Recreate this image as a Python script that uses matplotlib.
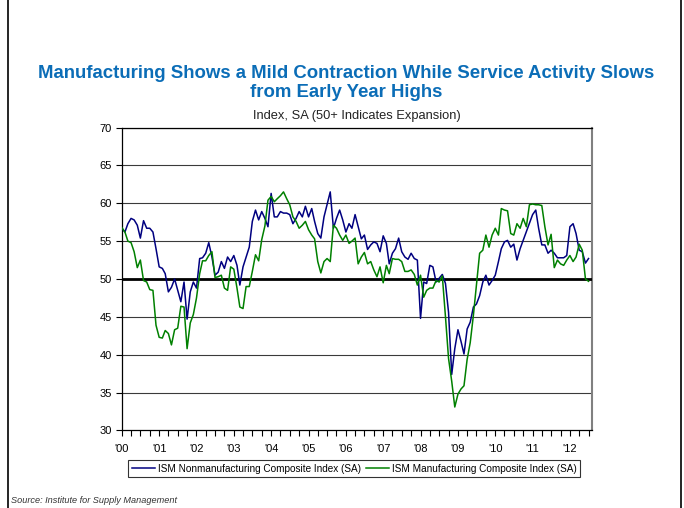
import matplotlib
matplotlib.use("Agg")
import matplotlib.pyplot as plt
import matplotlib.dates as mdates
from matplotlib.lines import Line2D
import numpy as np
import pandas as pd

plt.rcParams['font.family'] = ['Liberation Sans', 'DejaVu Sans']

# monthly readings, Jan 2000 - Jul 2012
nonmfg = [
    56.7, 56.2, 57.3, 58.0, 57.8, 57.1, 55.4, 57.7, 56.7, 56.7, 56.2, 54.0,   # 2000
    51.6, 51.4, 50.7, 48.3, 48.9, 50.0, 48.5, 47.0, 49.6, 44.7, 48.3, 49.6,   # 2001
    48.8, 52.7, 52.8, 53.4, 54.8, 52.9, 50.5, 50.9, 52.3, 51.4, 52.9, 52.3,   # 2002
    53.1, 51.8, 49.2, 51.6, 52.9, 54.2, 57.6, 59.1, 57.8, 58.9, 58.0, 56.9,   # 2003
    61.3, 58.2, 58.2, 58.9, 58.7, 58.7, 58.5, 57.3, 58.0, 58.9, 58.2, 59.6,   # 2004
    58.2, 59.3, 57.6, 56.0, 55.4, 58.2, 59.8, 61.5, 56.7, 58.0, 59.1, 57.8,   # 2005
    56.2, 57.3, 56.7, 58.5, 56.9, 55.3, 55.8, 53.9, 54.5, 54.9, 54.7, 53.6,   # 2006
    55.7, 54.7, 52.0, 53.4, 54.0, 55.4, 53.6, 52.9, 52.6, 53.4, 52.7, 52.5,   # 2007
    44.8, 49.6, 49.4, 51.8, 51.6, 49.6, 50.1, 50.6, 49.4, 45.6, 37.4, 40.8,   # 2008
    43.3, 41.7, 40.1, 43.4, 44.3, 46.3, 46.7, 47.8, 49.6, 50.5, 49.2, 49.8,   # 2009
    50.5, 52.3, 54.0, 54.9, 55.1, 54.2, 54.6, 52.5, 54.0, 55.1, 56.2, 57.3,   # 2010
    58.5, 59.1, 56.7, 54.5, 54.5, 53.4, 53.8, 53.4, 52.8, 52.8, 52.8, 53.1,   # 2011
    56.9, 57.3, 56.0, 53.8, 53.6, 52.1, 52.7,                                 # 2012
]
mfg = [
    56.8, 56.2, 55.0, 54.8, 53.6, 51.5, 52.5, 49.8, 49.6, 48.6, 48.5, 43.9,   # 2000
    42.3, 42.2, 43.2, 42.8, 41.3, 43.3, 43.5, 46.4, 46.3, 40.8, 44.2, 45.3,   # 2001
    47.5, 50.7, 52.4, 52.4, 53.1, 53.6, 50.2, 50.3, 50.5, 48.8, 48.5, 51.6,   # 2002
    51.3, 48.8, 46.3, 46.1, 49.0, 49.0, 51.0, 53.2, 52.4, 55.2, 57.0, 60.4,   # 2003
    60.9, 60.2, 60.6, 61.0, 61.5, 60.6, 59.8, 58.2, 57.6, 56.7, 57.1, 57.6,   # 2004
    56.5, 55.8, 55.3, 52.3, 50.8, 52.3, 52.7, 52.3, 57.1, 56.7, 55.8, 55.1,   # 2005
    55.8, 54.7, 55.0, 55.4, 52.0, 52.9, 53.5, 52.0, 52.3, 51.2, 50.3, 51.6,   # 2006
    49.5, 51.8, 50.7, 52.7, 52.6, 52.6, 52.3, 51.0, 51.0, 51.2, 50.6, 49.2,   # 2007
    50.5, 47.6, 48.5, 48.8, 48.8, 49.8, 49.6, 50.4, 45.0, 39.5, 36.5, 33.1,   # 2008
    34.8, 35.5, 35.9, 39.4, 41.6, 45.2, 49.2, 53.4, 53.8, 55.8, 54.2, 55.8,   # 2009
    56.7, 55.8, 59.3, 59.1, 59.0, 56.0, 55.8, 57.3, 56.7, 58.0, 56.9, 59.8,   # 2010
    59.9, 59.8, 59.8, 59.7, 56.9, 54.5, 55.9, 51.5, 52.5, 52.0, 51.8, 52.5,   # 2011
    53.1, 52.3, 52.9, 54.6, 53.8, 50.0, 49.7,                                 # 2012
]
months = pd.date_range('2000-01-01', periods=len(mfg), freq='MS')

year_ticks = pd.date_range('2000-01-01', '2012-01-01', freq='YS')
year_labels = ["'%02d" % (d.year % 100) for d in year_ticks]
y_ticks = [30, 35, 40, 45, 50, 55, 60, 65, 70]

NAVY = '#000080'
GREEN = '#008000'
TITLE_BLUE = '#0B6DB7'

fig = plt.figure(figsize=(6.84, 5.08), dpi=100)
ax = fig.add_axes([0.178, 0.1526, 0.6875, 0.5964])

for y in y_ticks[1:]:
    if y == 50:
        continue
    ax.axhline(y, color='#3a3a3a', lw=0.8, zorder=1)
ax.axhline(50, color='black', lw=2.0, zorder=3)

ax.plot(months, nonmfg, color=NAVY, lw=1.1, zorder=4,
        label='ISM Nonmanufacturing Composite Index (SA)')
ax.plot(months, mfg, color=GREEN, lw=1.1, zorder=4,
        label='ISM Manufacturing Composite Index (SA)')

ax.set_ylim(30, 70)
ax.set_yticks(y_ticks)
ax.set_xlim(pd.Timestamp('2000-01-01'), pd.Timestamp('2012-08-04'))
ax.set_xticks(year_ticks)
ax.set_xticklabels(year_labels)
ax.xaxis.set_minor_locator(mdates.MonthLocator(bymonth=[1, 4, 7, 10]))

ax.tick_params(axis='both', labelsize=8, colors='black', direction='out')
ax.tick_params(axis='y', length=4, width=0.8, pad=3)
ax.tick_params(axis='x', which='major', length=4, width=0.8, pad=6)
ax.tick_params(axis='x', which='minor', length=4, width=0.8)

for side in ['left', 'bottom', 'top']:
    ax.spines[side].set_color('black')
    ax.spines[side].set_linewidth(0.9)
ax.spines['right'].set_color('#808080')
ax.spines['right'].set_linewidth(1.5)

fig.text(0.506, 0.855, 'Manufacturing Shows a Mild Contraction While Service Activity Slows',
         ha='center', va='center', fontsize=13.4, fontweight='bold', color=TITLE_BLUE)
fig.text(0.506, 0.817, 'from Early Year Highs',
         ha='center', va='center', fontsize=13.4, fontweight='bold', color=TITLE_BLUE)
fig.text(0.522, 0.772, 'Index, SA (50+ Indicates Expansion)',
         ha='center', va='center', fontsize=9.3, color='#222222')

leg = fig.legend(loc='center', bbox_to_anchor=(0.518, 0.077), ncol=2,
                 fontsize=7.2, frameon=True, fancybox=False, handlelength=2.3,
                 handletextpad=0.3, columnspacing=0.5, borderpad=0.35)
leg.get_frame().set_edgecolor('black')
leg.get_frame().set_linewidth(0.8)

fig.text(0.016, 0.014, 'Source: Institute for Supply Management', ha='left', va='center',
         fontsize=6.6, style='italic', color='#333333')

# slide frame
fig.add_artist(Line2D([0.012, 0.012], [0, 1], color='black', lw=1.2, transform=fig.transFigure))
fig.add_artist(Line2D([0.996, 0.996], [0, 1], color='black', lw=1.2, transform=fig.transFigure))

fig.savefig('out.png', dpi=100)
